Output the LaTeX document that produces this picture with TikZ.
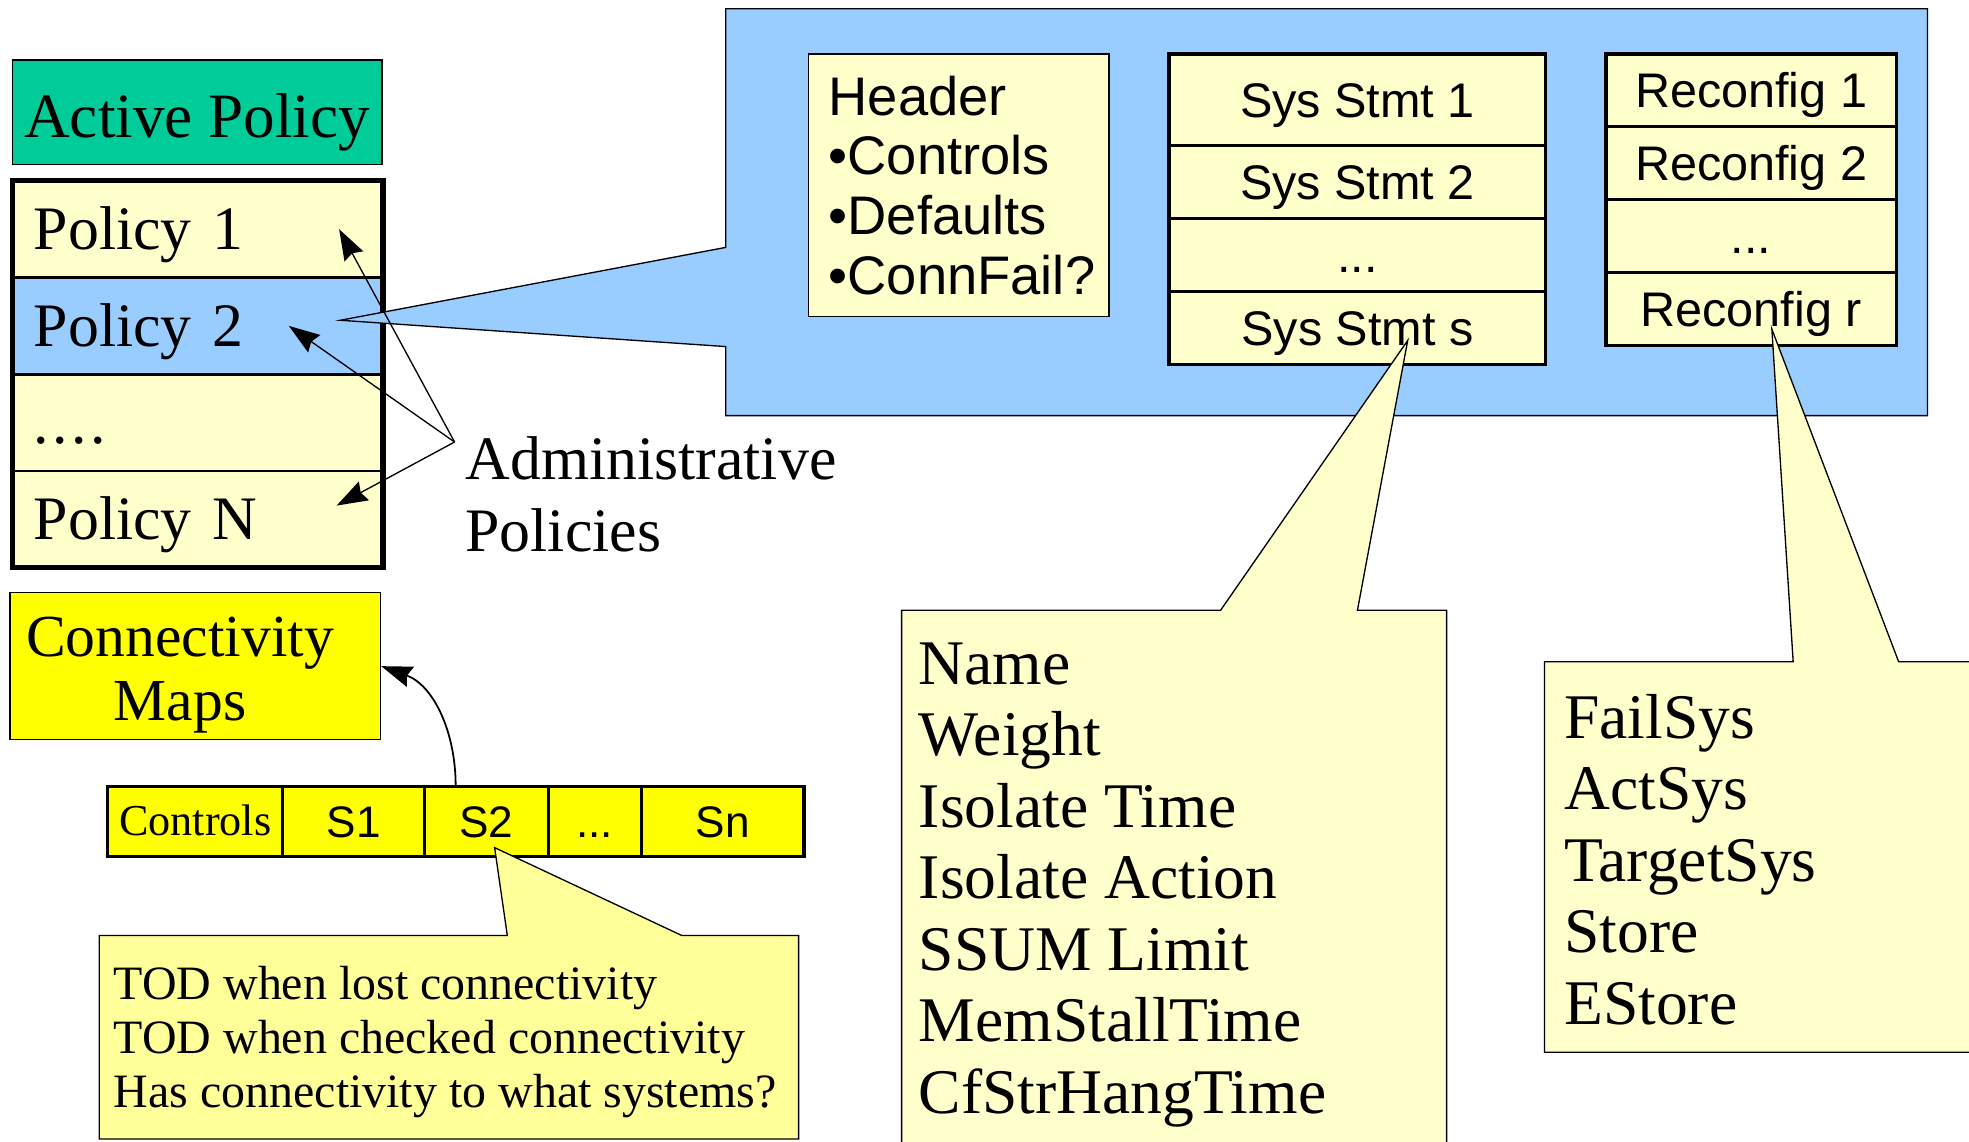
\documentclass[tikz,border=0pt]{standalone}
\usepackage{fontspec}
\setmainfont{Liberation Serif}
\setsansfont{Liberation Sans}
\usetikzlibrary{positioning,arrows.meta}

\definecolor{actgreen}{HTML}{00CC99}
\definecolor{polblue}{HTML}{99CCFF}
\definecolor{paleyel}{HTML}{FFFFCC}
\definecolor{noteyel}{HTML}{FFFF99}
\definecolor{mapyel}{HTML}{FFFF00}

\newcommand{\bigserif}{\fontsize{14}{16.3}\selectfont}
\newcommand{\listserif}{\fontsize{14.4}{16.2}\selectfont}
\newcommand{\noteserif}{\fontsize{10.85}{12.2}\selectfont}
\newcommand{\boxsans}{\sffamily\fontsize{11}{13}\selectfont}
\newcommand{\headsans}{\sffamily\fontsize{12.3}{13.5}\selectfont}

\tikzset{
  polrow/.style={draw, line width=0.6pt, fill=paleyel, minimum width=2.95cm,
    minimum height=0.77cm, text width=2.61cm, inner xsep=0.17cm, inner ysep=0pt,
    outer sep=0pt, align=left, font=\bigserif, text height=9.3pt, text depth=0pt},
  sysrow/.style={draw, line width=0.7pt, fill=paleyel, minimum width=3.0cm,
    minimum height=0.58cm, inner sep=0pt, outer sep=0pt, font=\boxsans,
    text height=7.9pt, text depth=0pt},
  barcell/.style={draw, line width=0.7pt, fill=mapyel, minimum height=0.56cm,
    inner sep=0pt, outer sep=0pt, font=\sffamily\fontsize{10}{12}\selectfont,
    text height=7.2pt, text depth=0pt},
  callout/.style={line width=0.3pt},
  listtext/.style={anchor=north west, inner sep=0pt, align=left}
}

\begin{document}
\begin{tikzpicture}[x=0.01cm, y=-0.01cm, >={Stealth[length=7pt, width=4.8pt, inset=0.8pt]}]
    \useasboundingbox (0,0) rectangle (1568,909);

    % active policy and the stack of policies
    \node[draw, line width=0.4pt, fill=actgreen, minimum width=2.94cm, minimum height=0.83cm,
        inner sep=0pt, font=\fontsize{14.3}{17}\selectfont, text height=11.4pt, text depth=0pt]
        (active) at (157,89.5) {Active Policy};
    \node[polrow] (pol1) at (157.5,182.5) {Policy 1};
    \node[polrow, fill=polblue, below=0pt of pol1] (pol2) {Policy 2};
    \node[polrow, below=0pt of pol2] (pol3) {.\kern0.8pt.\kern0.8pt.\kern0.8pt.};
    \node[polrow, below=0pt of pol3] (polN) {Policy N};
    \draw[line width=1.2pt] (pol1.north west) rectangle (polN.south east);

    % blue callout with the contents of one policy
    \coordinate (bluetip) at ([xshift=-0.34cm, yshift=0.045cm]pol2.east);
    \filldraw[callout, fill=polblue] (578,197) -- (578,7) -- (1535,7) -- (1535,331)
        -- (578,331) -- (578,276) -- (bluetip) -- cycle;

    \node[draw, line width=0.3pt, fill=paleyel, minimum width=2.39cm, minimum height=2.09cm,
        text width=2.07cm, inner xsep=0.16cm, align=left, font=\headsans]
        (header) at (763.5,147.5) {Header\\\textbullet Controls\\\textbullet Defaults\\\textbullet ConnFail?};

    \node[sysrow, minimum height=0.73cm] (sys1) at (1081,79.5) {Sys Stmt 1};
    \node[sysrow, below=0pt of sys1] (sys2) {Sys Stmt 2};
    \node[sysrow, below=0pt of sys2] (sys3) {...};
    \node[sysrow, below=0pt of sys3] (sysS) {Sys Stmt s};

    \node[sysrow, minimum width=2.31cm] (rec1) at (1394.5,72) {Reconfig 1};
    \node[sysrow, minimum width=2.31cm, below=0pt of rec1] (rec2) {Reconfig 2};
    \node[sysrow, minimum width=2.31cm, below=0pt of rec2] (rec3) {...};
    \node[sysrow, minimum width=2.31cm, below=0pt of rec3] (recR) {Reconfig r};

    % callouts for a system statement and a reconfig entry
    \coordinate (systip) at ([xshift=0.4cm, yshift=-0.1cm]sysS.center);
    \filldraw[callout, fill=paleyel] (972,486) -- (systip) -- (1081,486) -- (1152,486)
        -- (1152,915) -- (718,915) -- (718,486) -- cycle;
    \node[listtext, font=\listserif] (sysinfo) at (731,511)
        {Name\\Weight\\Isolate Time\\Isolate Action\\SSUM Limit\\MemStallTime\\CfStrHangTime};

    \coordinate (rectip) at ([xshift=0.165cm, yshift=-0.16cm]recR.center);
    \filldraw[callout, fill=paleyel] (1428,527) -- (rectip) -- (1512,527) -- (1575,527)
        -- (1575,838) -- (1230,838) -- (1230,527) -- cycle;
    \node[listtext, font=\listserif] (recinfo) at (1245,552)
        {FailSys\\ActSys\\TargetSys\\Store\\EStore};

    % administrative policies
    \node[listtext, inner xsep=0.08cm, font=\bigserif] (admin) at (362,347) {Administrative\\Policies};
    \coordinate (adm) at ([yshift=-0.05cm]admin.north west);
    \draw[->, line width=0.3pt] (adm) -- ([xshift=-0.35cm]pol1.east);
    \draw[->, line width=0.3pt] (adm) -- ([xshift=-0.75cm]pol2.east);
    \draw[->, line width=0.3pt] (adm) -- ([xshift=-0.37cm, yshift=0.11cm]polN.east);

    % connectivity maps
    \node[draw, line width=0.3pt, fill=mapyel, minimum width=2.95cm, minimum height=1.17cm]
        (maps) at (155.5,530.5) {};
    \node[align=center, inner sep=0pt, font=\fontsize{13.5}{14.5}\selectfont]
        (mapstext) at ([xshift=-0.12cm, yshift=-0.07cm]maps.center) {Connectivity\\Maps};

    \node[barcell, minimum width=1.39cm, font=\fontsize{10}{12}\selectfont, text height=6.6pt]
        (ctl) at (155.5,654) {Controls};
    \node[barcell, minimum width=1.13cm, right=0pt of ctl] (s1) {S1};
    \node[barcell, minimum width=0.985cm, right=0pt of s1] (s2) {S2};
    \node[barcell, minimum width=0.74cm, right=0pt of s2] (sdots) {...};
    \node[barcell, minimum width=1.295cm, right=0pt of sdots] (sn) {Sn};

    \draw[->, line width=0.4pt] ([xshift=-0.245cm]s2.north) to[out=90, in=-20] (maps.east);

    \coordinate (s2tip) at ([xshift=0.065cm, yshift=0.07cm]s2.south);
    \filldraw[callout, fill=noteyel] (404,745) -- (s2tip) -- (543,745) -- (636,745)
        -- (636,907) -- (79,907) -- (79,745) -- cycle;
    \node[listtext, font=\noteserif] (s2info) at (90,769)
        {TOD when lost connectivity\\TOD when checked connectivity\\Has connectivity to what systems?};
\end{tikzpicture}
\end{document}
